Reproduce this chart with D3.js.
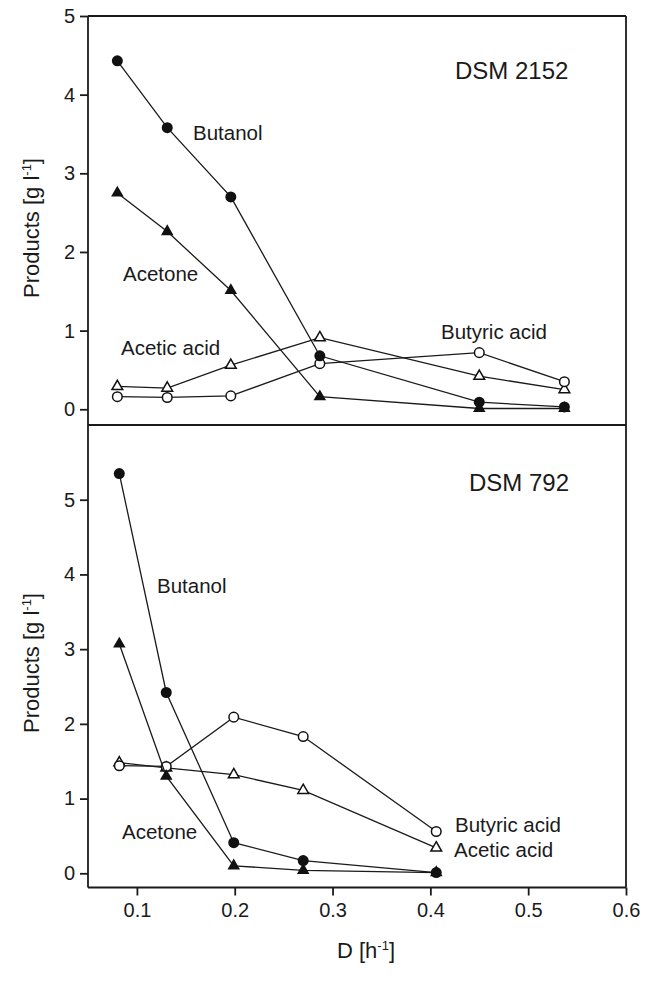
<!DOCTYPE html>
<html>
<head>
<meta charset="utf-8">
<script src="https://cdn.jsdelivr.net/npm/d3@7"></script>
<style>
body { margin: 0; background: #fff; }
svg text { font-family: "Liberation Sans", Arial, sans-serif; fill: #1a1a1a; }
</style>
</head>
<body>
<svg id="chart" width="652" height="989"></svg>
<script>
// dilution rates
var dTop = [0.08, 0.131, 0.196, 0.287, 0.45, 0.537];
var dBottom = [0.082, 0.13, 0.199, 0.27, 0.406];

// DSM 2152 (top)
var butanolTop = [4.43, 3.58, 2.70, 0.68, 0.09, 0.03];
var acetoneTop = [2.75, 2.26, 1.51, 0.16, 0.01, 0.01];
var aceticTop = [0.29, 0.27, 0.56, 0.91, 0.42, 0.25];
var butyricTop = [0.16, 0.15, 0.17, 0.58, 0.72, 0.35];

// DSM 792 (bottom)
var butanolBottom = [5.35, 2.42, 0.41, 0.17, 0.01];
var acetoneBottom = [3.07, 1.30, 0.10, 0.04, 0.01];
var aceticBottom = [1.48, 1.41, 1.32, 1.11, 0.34];
var butyricBottom = [1.44, 1.43, 2.09, 1.83, 0.56];

var xTicks = [0.1, 0.2, 0.3, 0.4, 0.5, 0.6];
var yTicks = [0, 1, 2, 3, 4, 5];

var svg = d3.select("#chart");
var left = 88, right = 626;

var x = d3.scaleLinear().domain([0.05, 0.6]).range([left, right]);
var yTop = d3.scaleLinear().domain([-0.2, 5]).range([425, 16]);
var yBot = d3.scaleLinear().domain([-0.19, 6.0]).range([887.5, 425]);

//frame
var frame = svg.append("g").attr("stroke", "#1a1a1a").attr("stroke-width", 1.8).attr("fill", "none");
frame.append("line").attr("x1", left).attr("y1", 16).attr("x2", left).attr("y2", 887.5);
frame.append("line").attr("x1", left).attr("y1", 16).attr("x2", right).attr("y2", 16);
frame.append("line").attr("x1", right).attr("y1", 16).attr("x2", right).attr("y2", 887.5);
frame.append("line").attr("x1", left).attr("y1", 425).attr("x2", right).attr("y2", 425);
frame.append("line").attr("x1", left).attr("y1", 887.5).attr("x2", right).attr("y2", 887.5);

function styleAxis(g)
{
	g.select(".domain").remove();
	g.selectAll(".tick line").attr("stroke", "#1a1a1a").attr("stroke-width", 1.8);
	g.selectAll(".tick text")
		.style("font-family", "'Liberation Sans', Arial, sans-serif")
		.style("font-size", "20px")
		.attr("fill", "#1a1a1a");
}

svg.append("g")
	.attr("transform", "translate(" + left + ",0)")
	.call(d3.axisLeft(yTop).tickValues(yTicks).tickSize(8).tickPadding(5).tickFormat(d3.format("d")))
	.call(styleAxis);
svg.append("g")
	.attr("transform", "translate(" + left + ",0)")
	.call(d3.axisLeft(yBot).tickValues(yTicks).tickSize(8).tickPadding(5).tickFormat(d3.format("d")))
	.call(styleAxis);
svg.append("g")
	.attr("transform", "translate(0,887.5)")
	.call(d3.axisBottom(x).tickValues(xTicks).tickSize(8).tickPadding(7).tickFormat(d3.format(".1f")))
	.call(styleAxis);

function drawSeries(xs, ys, yScale, kind)
{
	var pts = xs.map(function(d, i) { return [x(d), yScale(ys[i])]; });
	svg.append("path")
		.attr("d", d3.line()(pts))
		.attr("fill", "none")
		.attr("stroke", "#1a1a1a")
		.attr("stroke-width", 1.3);
	var g = svg.append("g");
	pts.forEach(function(p) {
		if (kind == "fc"){
			g.append("circle").attr("cx", p[0]).attr("cy", p[1]).attr("r", 5.5).attr("fill", "#111");
		}
		else if (kind == "oc"){
			g.append("circle").attr("cx", p[0]).attr("cy", p[1]).attr("r", 4.8)
				.attr("fill", "#fff").attr("stroke", "#111").attr("stroke-width", 1.5);
		}
		else if (kind == "ft"){
			g.append("path").attr("d", d3.symbol().type(d3.symbolTriangle).size(68)())
				.attr("transform", "translate(" + p[0] + "," + p[1] + ")").attr("fill", "#111");
		}
		else {
			g.append("path").attr("d", d3.symbol().type(d3.symbolTriangle).size(50)())
				.attr("transform", "translate(" + p[0] + "," + p[1] + ")")
				.attr("fill", "#fff").attr("stroke", "#111").attr("stroke-width", 1.5);
		}
	});
}

drawSeries(dTop, aceticTop, yTop, "ot");
drawSeries(dTop, butyricTop, yTop, "oc");
drawSeries(dTop, acetoneTop, yTop, "ft");
drawSeries(dTop, butanolTop, yTop, "fc");

drawSeries(dBottom, aceticBottom, yBot, "ot");
drawSeries(dBottom, butyricBottom, yBot, "oc");
drawSeries(dBottom, acetoneBottom, yBot, "ft");
drawSeries(dBottom, butanolBottom, yBot, "fc");

function label(txt, px, py, size)
{
	svg.append("text").attr("x", px).attr("y", py).style("font-size", size + "px").text(txt);
}

label("DSM 2152", 455, 79, 24);
label("Butanol", 193, 140, 20.5);
label("Acetone", 123, 281, 20.5);
label("Acetic acid", 121, 355, 20.5);
label("Butyric acid", 441, 339, 20.5);

label("DSM 792", 469, 491, 24);
label("Butanol", 157, 593, 20.5);
label("Acetone", 122, 839, 20.5);
label("Butyric acid", 455, 832, 20.5);
label("Acetic acid", 454, 857, 20.5);

// axis titles
function yTitle(cy)
{
	var t = svg.append("text")
		.attr("transform", "translate(39," + cy + ") rotate(-90)")
		.attr("text-anchor", "middle")
		.style("font-size", "22px");
	t.append("tspan").text("Products [g l");
	t.append("tspan").attr("dy", -8).style("font-size", "13px").text("-1");
	t.append("tspan").attr("dy", 8).text("]");
}
yTitle(228);
yTitle(663);

var xt = svg.append("text")
	.attr("x", 366).attr("y", 958)
	.attr("text-anchor", "middle")
	.style("font-size", "22px");
xt.append("tspan").text("D [h");
xt.append("tspan").attr("dy", -8).style("font-size", "13px").text("-1");
xt.append("tspan").attr("dy", 8).text("]");
</script>
</body>
</html>
